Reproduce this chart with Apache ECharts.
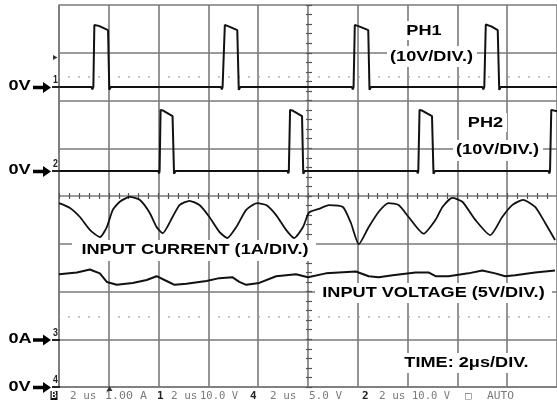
<!DOCTYPE html>
<html><head><meta charset="utf-8">
<script src="https://cdn.jsdelivr.net/npm/echarts@6/dist/echarts.min.js"></script>
<style>html,body{margin:0;padding:0;background:#fff}#c{width:557px;height:407px}</style>
</head><body><div id="c"></div>
<script>
// ---- data (time in microseconds, 2 us/div) ----
const ph1Time  = [0,1.3,1.34,1.38,1.42,1.6,1.97,2.0,2.02,2.08, 6.5,6.54,6.57,6.66,6.86,7.16,7.2,7.22,7.28, 11.76,11.8,11.83,11.88,12.1,12.42,12.45,12.47,12.53, 17.0,17.04,17.08,17.14,17.36,17.62,17.66,17.68,17.74,20];
const ph1Volts = [0,0,-0.5,0,13.0,12.8,11.9,11.9,-0.6,0, 0,-0.5,0,13.0,12.6,11.9,11.9,-0.6,0, 0,-0.5,0,13.0,12.6,11.9,11.9,-0.6,0, 0,-0.5,0,13.1,12.7,11.9,11.9,-0.6,0,0];

const ph2Time  = [0,3.98,4.02,4.04,4.08,4.2,4.56,4.6,4.62,4.68, 9.18,9.21,9.23,9.28,9.4,9.76,9.79,9.81,9.87, 14.38,14.41,14.43,14.48,14.6,14.98,15.02,15.04,15.1, 19.66,19.69,19.72,19.77,20];
const ph2Volts = [0,0,-0.5,0,12.8,12.6,11.5,11.5,-0.6,0, 0,-0.5,0,12.8,12.6,11.5,11.5,-0.6,0, 0,-0.5,0,12.8,12.6,11.5,11.5,-0.6,0, 0,-0.5,0,12.8,12.5];

const currentTime = [0,0.44,0.84,1.24,1.64,1.92,2.16,2.44,2.84,3.24,3.64,3.92,4.16,4.56,4.84,5.24,5.64,6.04,6.44,6.76,7.12,7.52,7.96,8.32,8.72,9.12,9.44,9.8,10.04,10.44,10.84,11.4,11.72,12.04,12.44,12.84,13.24,13.64,14.04,14.64,15.12,15.4,15.8,16.2,16.72,17.32,17.8,18.2,18.64,19.12,19.52,19.92];
const currentAmps = [2.85,2.75,2.56,2.29,2.14,2.35,2.71,2.88,2.98,2.92,2.65,2.35,2.22,2.56,2.81,2.9,2.81,2.56,2.25,2.12,2.35,2.71,2.85,2.81,2.6,2.29,2.12,2.35,2.65,2.73,2.81,2.77,2.44,1.99,2.35,2.67,2.85,2.81,2.56,2.21,2.5,2.77,2.96,2.88,2.5,2.18,2.56,2.81,2.92,2.77,2.44,2.08];

const voltageTime  = [0,0.72,1.24,1.64,1.92,2.32,2.96,3.52,3.92,4.32,4.64,5.12,5.92,6.44,6.96,7.24,7.52,8.04,8.72,9.52,10.0,10.72,11.92,12.44,12.84,13.4,14.32,14.84,15.12,15.64,16.44,17.0,17.52,17.92,18.32,19.12,19.92];
const voltageVolts = [11.8,12.0,12.3,11.9,11.0,10.7,10.9,11.2,11.6,11.1,10.7,10.8,11.1,11.4,11.5,11.0,10.7,10.9,11.6,11.8,11.5,11.9,12.1,11.6,11.5,11.7,12.0,12.0,11.6,11.6,11.9,12.2,11.9,11.6,11.7,12.0,12.2];

const statusItems = ["2 us","1.00 A","1","2 us","10.0 V","4","2 us","5.0 V","2","2 us","10.0 V","\u25A1","AUTO"];

const zip = (a, b) => a.map((v, i) => [v, b[i]]);

const chart = echarts.init(document.getElementById('c'), null, {renderer: 'canvas'});
const gridCol = '#7a7a7a';
const hidden = {show:false};
const F = 'Liberation Sans, Arial, Helvetica, sans-serif';

function label(txt, cx, cy, box) {
  const els = [];
  if (box) els.push({type:'rect', z:50, shape:{x:box[0], y:box[1], width:box[2], height:box[3]}, style:{fill:'#fff'}});
  els.push({type:'text', z:60, x:cx, y:cy, scaleX:1.17, style:{text:txt, x:0, y:0, align:'center', verticalAlign:'middle', font:'bold 15.5px ' + F, fill:'#000'}});
  return els;
}
function arrow(cy) {
  return {type:'polygon', z:60, shape:{points:[[33,cy-1.8],[43,cy-1.8],[43,cy-5.5],[51,cy],[43,cy+5.5],[43,cy+1.8],[33,cy+1.8]]}, style:{fill:'#000'}};
}
function chMark(d, cy) {
  return [
    {type:'text', z:60, x:55.5, y:cy-7, scaleX:0.8, style:{text:d, x:0, y:0, align:'center', verticalAlign:'middle', font:'bold 11px ' + F, fill:'#222'}},
    {type:'line', z:60, shape:{x1:52, y1:cy, x2:60, y2:cy}, style:{stroke:'#222', lineWidth:2}}
  ];
}
// status line layout (left x, target width; 0 = natural width)
const statusX = [70,105,157,171,200,250,270,309,362,379,412,465,487];
const statusW = [0,42,0,0,38,0,0,33,0,0,38,0,27];
const statusBold = [false,false,true,false,false,true,false,false,true,false,false,false,false];
const measureCtx = document.createElement('canvas').getContext('2d');
function statusEl(s, i) {
  const font = (statusBold[i] ? 'bold ' : '') + '11px DejaVu Sans Mono, monospace';
  measureCtx.font = font;
  const w = measureCtx.measureText(s).width;
  const sx = statusW[i] ? statusW[i] / w : 1;
  return {type:'text', z:60, x:statusX[i], y:396, scaleX:sx, style:{text:s, x:0, y:0, align:'left', verticalAlign:'middle', font:font, fill: statusBold[i] ? '#222' : '#7a7a7a'}};
}

let graphics = [];
graphics = graphics.concat(
  label('PH1', 424, 30.5, [404, 21, 40, 19]),
  label('(10V/DIV.)', 431.5, 56.5, [387, 46, 90, 21]),
  label('PH2', 485.5, 122.5, [465, 113, 42, 19]),
  label('(10V/DIV.)', 497.5, 150, [453, 140, 90, 21]),
  label('INPUT CURRENT (1A/DIV.)', 195, 250, [72, 240, 244, 21]),
  label('INPUT VOLTAGE (5V/DIV.)', 433.5, 292.5, [315, 283, 237, 20]),
  label('TIME: 2\u03bcs/DIV.', 466.5, 362.5, [400, 353, 133, 20]),
  label('0V', 19.5, 86, null),
  label('0V', 19.5, 170, null),
  label('0A', 20, 339, null),
  label('0V', 19.5, 386.5, null),
  [arrow(87.5), arrow(171.5), arrow(340), arrow(387.5)],
  chMark('1', 87), chMark('2', 171), chMark('3', 340), chMark('4', 387),
  [
    {type:'polygon', z:60, shape:{points:[[53,55],[57.5,57.5],[53,60]]}, style:{fill:'#333'}},
    {type:'polygon', z:60, shape:{points:[[106.5,391],[109.5,386],[112.5,391]]}, style:{fill:'#333'}},
    {type:'rect', z:60, shape:{x:50.5, y:391, width:7, height:9}, style:{fill:'#111'}},
    {type:'text', z:61, x:54, y:396, style:{text:'B', x:0, y:0, align:'center', verticalAlign:'middle', font:'bold 9px DejaVu Sans Mono, monospace', fill:'#fff'}}
  ],
  statusItems.map(statusEl)
);

const tickAxisX = (inside) => ({type:'value', min:0, max:20, interval:0.4, position:'bottom', offset:-191, axisLine:hidden, axisLabel:hidden, splitLine:hidden, axisTick:{show:true, inside:inside, length:3, lineStyle:{color:'#555', width:1.2}}});
const tickAxisY = (inside) => ({type:'value', min:0, max:8, interval:0.2, position:'left', offset:-250, axisLine:hidden, axisLabel:hidden, splitLine:hidden, axisTick:{show:true, inside:inside, length:3, lineStyle:{color:'#555', width:1.2}}});

const traceStyle = (w) => ({color:'#111', width:w});

chart.setOption({
  animation:false,
  backgroundColor:'#fff',
  grid:{left:59, top:5, width:500, height:382, containLabel:false},
  xAxis:[
    {type:'value', min:0, max:20, interval:2, axisLine:{show:true, lineStyle:{color:gridCol, width:1.6}}, axisTick:hidden, axisLabel:hidden, splitLine:{show:true, lineStyle:{color:gridCol, width:1.6}}},
    tickAxisX(true), tickAxisX(false)
  ],
  yAxis:[
    {type:'value', min:0, max:8, interval:1, axisLine:{show:true, lineStyle:{color:gridCol, width:1.6}}, axisTick:hidden, axisLabel:hidden, splitLine:{show:true, lineStyle:{color:gridCol, width:1.6}}},
    {type:'value', min:-62.83, max:17.17, show:false},
    {type:'value', min:-45.24, max:34.76, show:false},
    {type:'value', min:-1, max:7, show:false},
    {type:'value', min:0, max:40, show:false},
    tickAxisY(true), tickAxisY(false)
  ],
  series:[
    {type:'line', name:'grid dots', xAxisIndex:0, yAxisIndex:0, data:[], silent:true,
      markLine:{silent:true, symbol:'none', label:{show:false}, animation:false,
        lineStyle:{type:[1.5,8.5], dashOffset:0.75, color:'#9a9a9a', width:1.5},
        data:[{yAxis:6.5},{yAxis:1.47}]}},
    {type:'line', name:'PH1', xAxisIndex:0, yAxisIndex:1, data:zip(ph1Time, ph1Volts), showSymbol:false, lineStyle:traceStyle(2), z:5},
    {type:'line', name:'PH2', xAxisIndex:0, yAxisIndex:2, data:zip(ph2Time, ph2Volts), showSymbol:false, lineStyle:traceStyle(2), z:5},
    {type:'line', name:'Input current', xAxisIndex:0, yAxisIndex:3, data:zip(currentTime, currentAmps), showSymbol:false, smooth:0.2, lineStyle:traceStyle(1.8), z:5},
    {type:'line', name:'Input voltage', xAxisIndex:0, yAxisIndex:4, data:zip(voltageTime, voltageVolts), showSymbol:false, lineStyle:traceStyle(2), z:5}
  ],
  graphic:{elements:graphics}
});
</script></body></html>
